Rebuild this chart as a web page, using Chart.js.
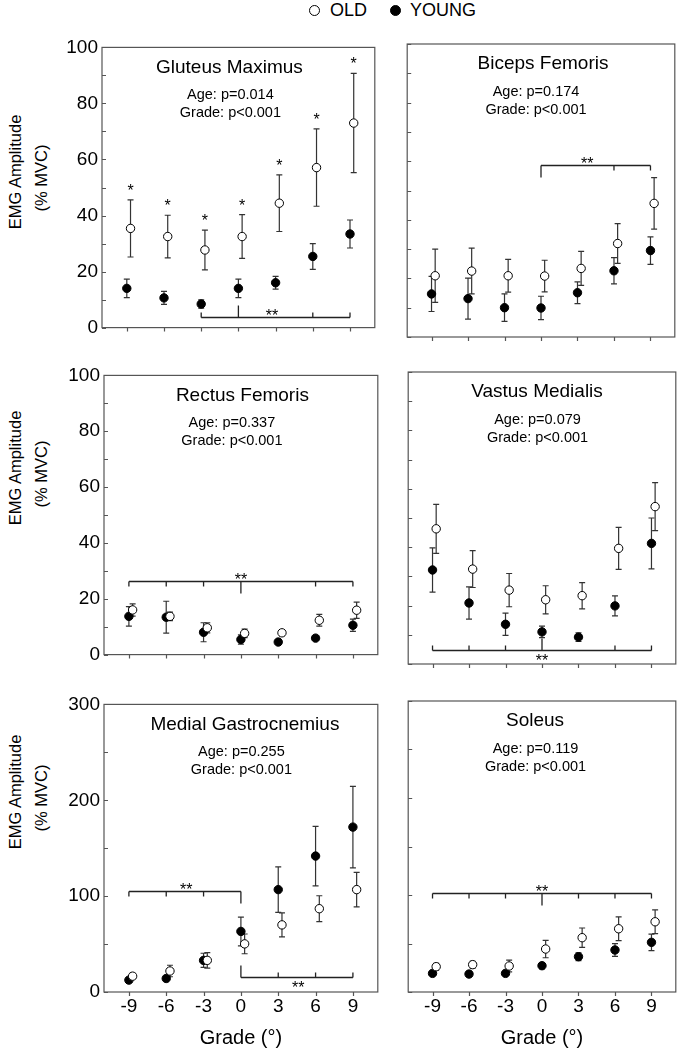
<!DOCTYPE html>
<html>
<head>
<meta charset="utf-8">
<title>EMG amplitude by grade</title>
<script src="https://cdn.jsdelivr.net/npm/chart.js@4.4.1/dist/chart.umd.min.js"></script>
<style>
    html, body { margin: 0; padding: 0; background: #fff; overflow: hidden; }
    body { position: relative; width: 681px; height: 1050px; font-family: 'Liberation Sans', Arial, sans-serif; color: #000; }
    canvas { position: absolute; }
    .ytitle { position: absolute; transform: translate(-50%, -50%) rotate(-90deg); white-space: nowrap; font-size: 16.5px; }
    .leg { position: absolute; font-size: 18px; line-height: 20px; top: 0; }
    .dot { position: absolute; width: 9px; height: 9px; border: 1px solid #000; border-radius: 50%; top: 5px; }
</style>
</head>
<body>

<div class="dot" style="left:309px; background:#fff;"></div>
<div class="leg" style="left:330px;">OLD</div>
<div class="dot" style="left:390px; background:#000;"></div>
<div class="leg" style="left:410px;">YOUNG</div>

<div class="ytitle" style="left:15px; top:172px;">EMG Amplitude</div>
<div class="ytitle" style="left:41px; top:178px;">(% MVC)</div>
<div class="ytitle" style="left:15px; top:468px;">EMG Amplitude</div>
<div class="ytitle" style="left:41px; top:474px;">(% MVC)</div>
<div class="ytitle" style="left:15px; top:792px;">EMG Amplitude</div>
<div class="ytitle" style="left:41px; top:798px;">(% MVC)</div>

<canvas id="gm"></canvas>
<canvas id="bf"></canvas>
<canvas id="rf"></canvas>
<canvas id="vm"></canvas>
<canvas id="mg"></canvas>
<canvas id="sol"></canvas>

<script>
const grades = [-9, -6, -3, 0, 3, 6, 9];

const pctTicks = [0, 10, 20, 30, 40, 50, 60, 70, 80, 90, 100];
const pctLabels = [0, 20, 40, 60, 80, 100];
const mgTicks = [0, 50, 100, 150, 200, 250, 300];
const mgLabels = [0, 100, 200, 300];

// Gluteus Maximus
const gmOld = [35.4, 32.5, 27.7, 32.5, 44.4, 57.1, 73.0];
const gmOldSem = [10.2, 7.6, 7.1, 7.8, 10.1, 13.8, 17.7];
const gmYoung = [14.0, 10.6, 8.4, 14.0, 16.0, 25.4, 33.4];
const gmYoungSem = [3.3, 2.3, 1.5, 3.3, 2.3, 4.6, 5.0];
const gmStars = [-9, -6, -3, 0, 3, 6, 9];

// Biceps Femoris
const bfOld = [20.9, 22.5, 20.9, 20.8, 23.4, 31.9, 45.6];
const bfOldSem = [9.1, 7.8, 5.6, 5.4, 5.8, 6.8, 8.8];
const bfYoung = [14.7, 13.1, 10.0, 9.9, 15.1, 22.6, 29.5];
const bfYoungSem = [6.0, 7.0, 4.7, 4.0, 3.7, 4.5, 4.7];

// Rectus Femoris
const rfOld = [16.0, 13.7, 9.6, 7.6, 7.8, 12.3, 15.9];
const rfOldSem = [2.2, 1.5, 1.8, 1.5, 1.0, 2.1, 2.9];
const rfYoung = [13.7, 13.4, 8.0, 5.4, 4.5, 5.9, 10.5];
const rfYoungSem = [3.5, 5.7, 3.4, 1.7, 0.5, 0.8, 2.2];

// Vastus Medialis
const vmOld = [46.3, 32.5, 25.3, 22.0, 23.4, 39.6, 53.9];
const vmOldSem = [8.4, 6.3, 5.7, 4.8, 4.5, 7.2, 8.2];
const vmYoung = [32.2, 20.9, 13.6, 11.0, 9.2, 19.9, 41.3];
const vmYoungSem = [7.6, 5.5, 3.8, 2.0, 1.5, 3.4, 8.7];

// Medial Gastrocnemius
const mgOld = [16.5, 21.9, 33.0, 50.2, 70.0, 86.9, 106.8];
const mgOldSem = [3.0, 6.0, 8.0, 10.3, 12.5, 13.5, 18.0];
const mgYoung = [12.4, 14.1, 33.0, 63.2, 106.8, 141.8, 172.0];
const mgYoungSem = [2.0, 2.0, 7.4, 15.0, 23.7, 31.0, 42.5];

// Soleus
const solOld = [26.1, 28.2, 26.8, 44.3, 56.0, 65.2, 72.4];
const solOldSem = [3.5, 3.5, 6.0, 9.0, 10.0, 12.3, 12.3];
const solYoung = [19.2, 18.5, 19.2, 27.1, 36.4, 43.3, 51.2];
const solYoungSem = [2.0, 2.0, 2.0, 3.0, 4.0, 6.5, 8.5];

// significance brackets (grades with a tick, reference grade, level)
const gmBrackets = [{ ticks: [-3, 6, 9], ref: 0, y: 3.9, dir: 'up', label: 'above', lx: 2.7 }];
const bfBrackets = [{ ticks: [6, 9], ref: 0, y: 58.7, dir: 'down', label: 'above', lx: 3.8 }];
const rfBrackets = [{ ticks: [-9, -6, -3, 6, 9], ref: 0, y: 26.2, dir: 'down', label: 'above', lx: 0 }];
const vmBrackets = [{ ticks: [-9, -6, -3, 6, 9], ref: 0, y: 4.8, dir: 'up', label: 'below', lx: 0 }];
const mgBrackets = [
    { ticks: [-9, -6, -3], ref: 0, y: 105.8, dir: 'down', label: 'above', lx: -4.4 },
    { ticks: [3, 6, 9], ref: 0, y: 15.8, dir: 'up', label: 'below', lx: 4.6 }
];
const solBrackets = [{ ticks: [-9, -6, -3, 3, 6, 9], ref: 0, y: 101.7, dir: 'down', label: 'above', lx: 0 }];

const OLD_SHIFT = 0.3;
const FONT = "'Liberation Sans', Arial, sans-serif";
Chart.defaults.font.family = FONT;

function annotations(p) {
    return {
        id: 'annot',
        beforeDatasetsDraw(chart) {
            const ctx = chart.ctx, xs = chart.scales.x, ys = chart.scales.y, a = chart.chartArea;
            ctx.save();
            ctx.strokeStyle = '#555';
            ctx.lineWidth = 1.2;
            ctx.strokeRect(a.left, a.top, a.right - a.left, a.bottom - a.top);
            ctx.beginPath();
            ys.ticks.forEach(t => {
                const y = Math.round(ys.getPixelForValue(t.value)) + 0.5;
                ctx.moveTo(a.left, y); ctx.lineTo(a.left + 4, y);
            });
            xs.ticks.forEach(t => {
                const x = Math.round(xs.getPixelForValue(t.value)) + 0.5;
                ctx.moveTo(x, a.bottom); ctx.lineTo(x, a.bottom + 4);
            });
            ctx.stroke();

            // error bars
            ctx.strokeStyle = '#333';
            ctx.lineWidth = 1.2;
            [[p.old, p.oldSem, OLD_SHIFT], [p.young, p.youngSem, 0]].forEach(([vals, sem, dx]) => {
                ctx.beginPath();
                vals.forEach((v, i) => {
                    const x = xs.getPixelForValue(grades[i] + dx);
                    const y0 = ys.getPixelForValue(v - sem[i]);
                    const y1 = ys.getPixelForValue(v + sem[i]);
                    ctx.moveTo(x, y0); ctx.lineTo(x, y1);
                    ctx.moveTo(x - 3, y0); ctx.lineTo(x + 3, y0);
                    ctx.moveTo(x - 3, y1); ctx.lineTo(x + 3, y1);
                });
                ctx.stroke();
            });
            ctx.restore();
        },
        afterDatasetsDraw(chart) {
            const ctx = chart.ctx, xs = chart.scales.x, ys = chart.scales.y, a = chart.chartArea;
            const cx = (a.left + a.right) / 2;
            ctx.save();
            ctx.fillStyle = '#000';
            ctx.textAlign = 'center';
            ctx.textBaseline = 'middle';
            ctx.font = '19px ' + FONT;
            ctx.fillText(p.title, cx + p.tdx, a.top + 20);
            ctx.font = '14.5px ' + FONT;
            ctx.fillText(p.age, cx + p.sdx, a.top + 47.5);
            ctx.fillText('Grade: p<0.001', cx + p.sdx, a.top + 66);

            ctx.textBaseline = 'alphabetic';
            ctx.font = '16px ' + FONT;
            (p.stars || []).forEach(g => {
                const i = grades.indexOf(g);
                const x = xs.getPixelForValue(g + OLD_SHIFT);
                const y = ys.getPixelForValue(p.old[i] + p.oldSem[i]);
                ctx.fillText('*', x, y - 4);
            });

            ctx.strokeStyle = '#222';
            ctx.lineWidth = 1.3;
            p.brackets.forEach(b => {
                const all = b.ticks.concat([b.ref]);
                const x0 = xs.getPixelForValue(Math.min(...all));
                const x1 = xs.getPixelForValue(Math.max(...all));
                const y = Math.round(ys.getPixelForValue(b.y)) + 0.5;
                const s = b.dir === 'up' ? -1 : 1;
                ctx.beginPath();
                ctx.moveTo(x0, y); ctx.lineTo(x1, y);
                b.ticks.forEach(g => {
                    const x = xs.getPixelForValue(g);
                    ctx.moveTo(x, y); ctx.lineTo(x, y + s * 5);
                });
                const xr = xs.getPixelForValue(b.ref);
                ctx.moveTo(xr, y); ctx.lineTo(xr, y + s * 12);
                ctx.stroke();
                ctx.fillText('**', xs.getPixelForValue(b.lx), b.label === 'above' ? y + 3 : y + 15);
            });
            ctx.restore();
        }
    };
}

function panel(p) {
    const yW = p.left ? 62 : 2;
    const rightPad = p.left ? 4 : 1;
    const bottom = p.bottom ? 58 : 6;
    const cv = document.getElementById(p.id);
    cv.width = yW + p.W + rightPad;
    cv.height = 12 + p.H + bottom;
    cv.style.left = (p.L - yW) + 'px';
    cv.style.top = (p.T - 12) + 'px';

    new Chart(cv, {
        type: 'scatter',
        data: {
            datasets: [{
                label: 'OLD',
                data: grades.map((g, i) => ({ x: g + OLD_SHIFT, y: p.old[i] })),
                pointRadius: 4.2,
                pointBorderWidth: 1,
                pointBackgroundColor: '#fff',
                pointBorderColor: '#000'
            }, {
                label: 'YOUNG',
                data: grades.map((g, i) => ({ x: g, y: p.young[i] })),
                pointRadius: 4.2,
                pointBorderWidth: 1,
                pointBackgroundColor: '#000',
                pointBorderColor: '#000'
            }]
        },
        options: {
            responsive: false,
            animation: false,
            events: [],
            layout: { padding: { left: 0, top: 12, right: rightPad, bottom: 0 } },
            plugins: { legend: { display: false }, tooltip: { enabled: false } },
            scales: {
                x: {
                    type: 'linear',
                    min: -11,
                    max: 11,
                    afterBuildTicks: s => { s.ticks = grades.map(v => ({ value: v })); },
                    afterFit: s => { s.height = bottom; },
                    grid: { display: false, tickLength: 0 },
                    border: { display: false },
                    ticks: { display: p.bottom, color: '#000', font: { size: 19 }, padding: 3 },
                    title: { display: p.bottom, text: 'Grade (°)', color: '#000', font: { size: 20 }, padding: 0 }
                },
                y: {
                    min: 0,
                    max: p.ymax,
                    afterBuildTicks: s => { s.ticks = p.yticks.map(v => ({ value: v })); },
                    afterFit: s => { s.width = yW; },
                    grid: { display: false, tickLength: 0 },
                    border: { display: false },
                    ticks: {
                        display: p.left,
                        color: '#000',
                        font: { size: 19 },
                        padding: 4,
                        callback: v => p.ylabels.includes(v) ? String(v) : ''
                    }
                }
            }
        },
        plugins: [annotations(p)]
    });
}

panel({ id: 'gm', L: 102, T: 44, W: 274, H: 293, left: true, bottom: false, ymax: 100, yticks: pctTicks, ylabels: pctLabels,
    title: 'Gluteus Maximus', age: 'Age: p=0.014', tdx: -9, sdx: -8,
    old: gmOld, oldSem: gmOldSem, young: gmYoung, youngSem: gmYoungSem, stars: gmStars, brackets: gmBrackets });
panel({ id: 'bf', L: 404, T: 44, W: 275, H: 293, left: false, bottom: false, ymax: 100, yticks: pctTicks, ylabels: pctLabels,
    title: 'Biceps Femoris', age: 'Age: p=0.174', tdx: 2, sdx: -5,
    old: bfOld, oldSem: bfOldSem, young: bfYoung, youngSem: bfYoungSem, brackets: bfBrackets });
panel({ id: 'rf', L: 104, T: 372, W: 275, H: 292, left: true, bottom: false, ymax: 100, yticks: pctTicks, ylabels: pctLabels,
    title: 'Rectus Femoris', age: 'Age: p=0.337', tdx: 1.5, sdx: -9,
    old: rfOld, oldSem: rfOldSem, young: rfYoung, youngSem: rfYoungSem, brackets: rfBrackets });
panel({ id: 'vm', L: 405, T: 372, W: 275, H: 292, left: false, bottom: false, ymax: 100, yticks: pctTicks, ylabels: pctLabels,
    title: 'Vastus Medialis', age: 'Age: p=0.079', tdx: -5, sdx: -4.5,
    old: vmOld, oldSem: vmOldSem, young: vmYoung, youngSem: vmYoungSem, brackets: vmBrackets });
panel({ id: 'mg', L: 104, T: 701, W: 275, H: 291, left: true, bottom: true, ymax: 300, yticks: mgTicks, ylabels: mgLabels,
    title: 'Medial Gastrocnemius', age: 'Age: p=0.255', tdx: 4, sdx: 0.5,
    old: mgOld, oldSem: mgOldSem, young: mgYoung, youngSem: mgYoungSem, brackets: mgBrackets });
panel({ id: 'sol', L: 405, T: 701, W: 275, H: 291, left: false, bottom: true, ymax: 300, yticks: mgTicks, ylabels: mgLabels,
    title: 'Soleus', age: 'Age: p=0.119', tdx: -7, sdx: -6.5,
    old: solOld, oldSem: solOldSem, young: solYoung, youngSem: solYoungSem, brackets: solBrackets });
</script>
</body>
</html>
